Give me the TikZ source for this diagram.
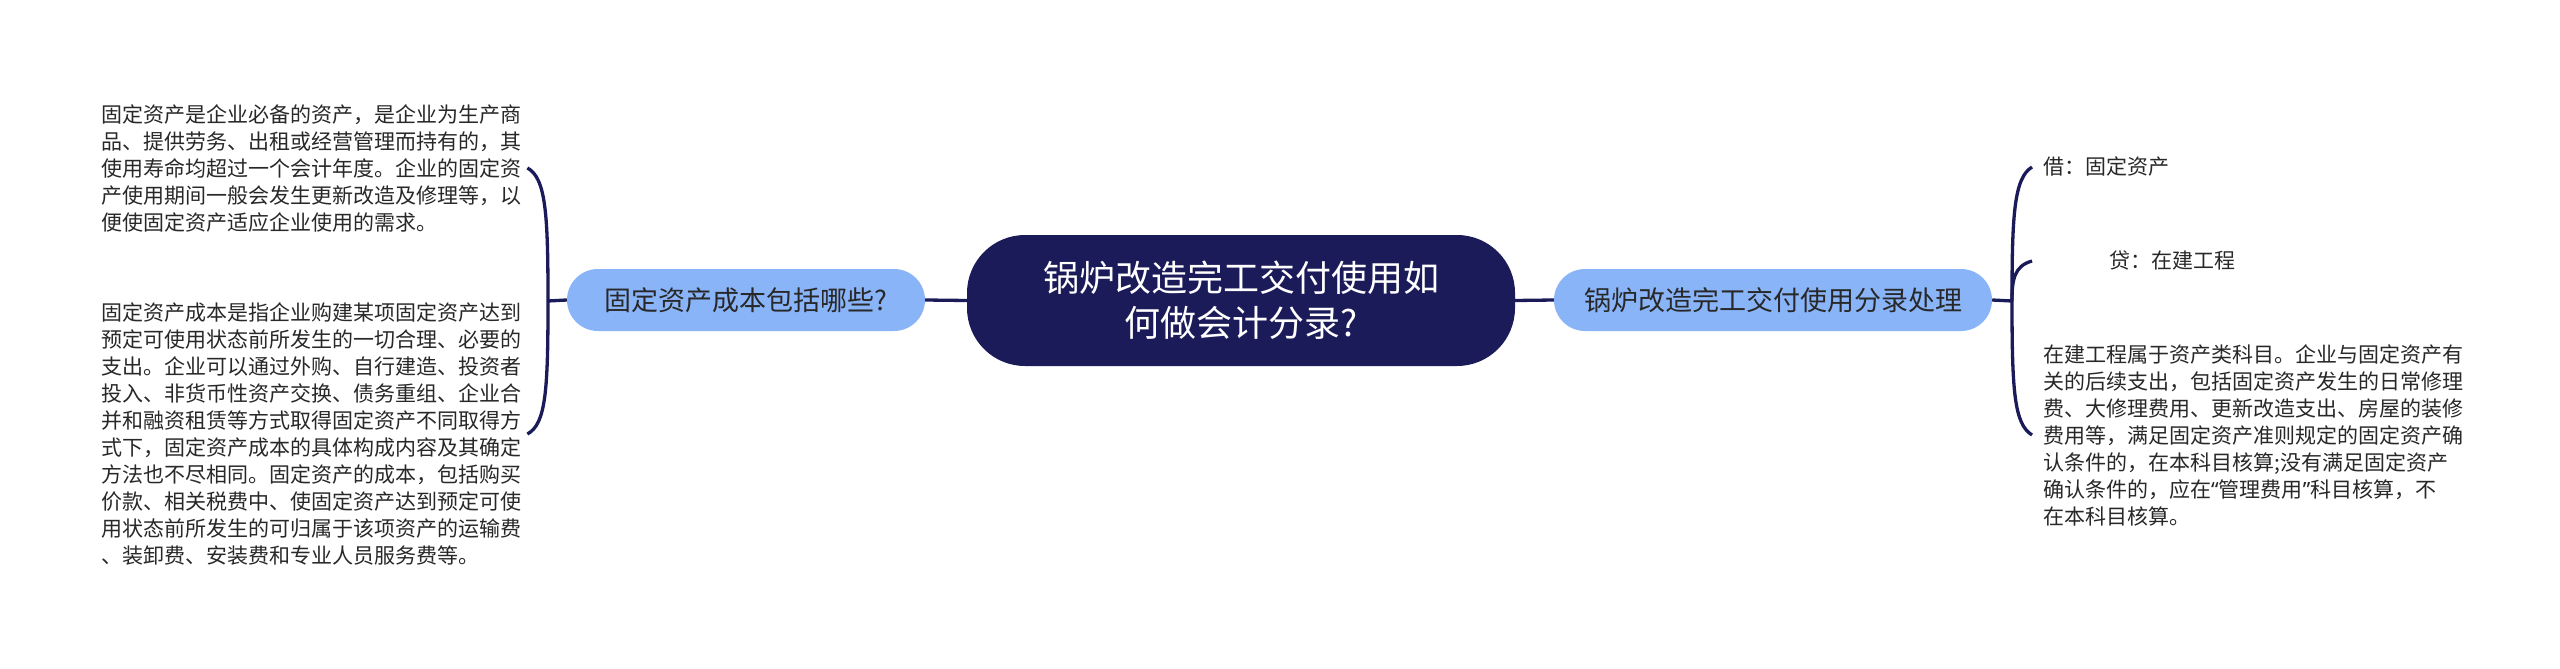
\documentclass[tikz,border=0pt]{standalone}
\usepackage{fontspec}
\setmainfont{Noto Sans CJK SC}
\newfontfamily\latq{Noto Sans}
\definecolor{navy}{RGB}{28,27,90}
\definecolor{lblue}{RGB}{138,180,248}
\definecolor{txt}{RGB}{40,40,40}
\begin{document}
\begin{tikzpicture}[x=1pt,y=-1pt,
  conn/.style={draw=navy,line width=3.3pt},
  mainbox/.style={fill=navy,text=white,minimum width=548pt,minimum height=131pt,rounded corners=58pt,align=center,inner sep=0pt,font=\fontsize{36}{45}\selectfont},
  subbox/.style={fill=lblue,text=txt,minimum height=62pt,rounded corners=31pt,inner sep=0pt,font=\fontsize{27}{32}\selectfont},
  leaf/.style={text=txt,align=left,inner ysep=0pt,font=\fontsize{21}{27}\selectfont}]
\useasboundingbox (0,0) rectangle (2560,669);
\fill[white] (0,0) rectangle (2560,669);

\node[mainbox] (c) at (1241,300.5) {锅炉改造完工交付使用如\\何做会计分录?};
\node[subbox,minimum width=358pt] (l) at (746,300) {固定资产成本包括哪些?};
\node[subbox,minimum width=438pt] (r) at (1773,300) {锅炉改造完工交付使用分录处理};

\coordinate (jl) at (548,301);
\coordinate (jr) at (2012,301);

\node[leaf,anchor=west,inner xsep=6pt] (t1) at (95,168) {固定资产是企业必备的资产，是企业为生产商\\品、提供劳务、出租或经营管理而持有的，其\\使用寿命均超过一个会计年度。企业的固定资\\产使用期间一般会发生更新改造及修理等，以\\便使固定资产适应企业使用的需求。};
\node[leaf,anchor=west,inner xsep=6pt] (t2) at (95,434) {固定资产成本是指企业购建某项固定资产达到\\预定可使用状态前所发生的一切合理、必要的\\支出。企业可以通过外购、自行建造、投资者\\投入、非货币性资产交换、债务重组、企业合\\并和融资租赁等方式取得固定资产不同取得方\\式下，固定资产成本的具体构成内容及其确定\\方法也不尽相同。固定资产的成本，包括购买\\价款、相关税费中、使固定资产达到预定可使\\用状态前所发生的可归属于该项资产的运输费\\、装卸费、安装费和专业人员服务费等。};

\node[leaf,anchor=west,inner xsep=11pt] (t3) at (2032,167) {借：固定资产};
\node[leaf,anchor=west,inner xsep=11pt] (t4) at (2032,261) {\hspace*{66pt}贷：在建工程};
\node[leaf,anchor=west,inner xsep=11pt] (t5) at (2032,435) {在建工程属于资产类科目。企业与固定资产有\\关的后续支出，包括固定资产发生的日常修理\\费、大修理费用、更新改造支出、房屋的装修\\费用等，满足固定资产准则规定的固定资产确\\认条件的，在本科目核算;没有满足固定资产\\确认条件的，应在{\latq “}管理费用{\latq ”}科目核算，不\\在本科目核算。};

\draw[conn] (c.west) -- (l.east);
\draw[conn] (c.east) -- (r.west);
\draw[conn] (l.west) -- (jl);
\draw[conn] (r.east) -- (jr);

\draw[conn] (jl) .. controls (548,215) and (546,178) .. (t1.east);
\draw[conn] (jl) .. controls (548,390) and (546,424) .. (t2.east);

\draw[conn] (jr) .. controls (2012,215) and (2014,178) .. (t3.west);
\draw[conn] (jr) .. controls (2012,280) and (2014,266) .. (t4.west);
\draw[conn] (jr) .. controls (2012,390) and (2014,424) .. (t5.west);
\end{tikzpicture}
\end{document}
